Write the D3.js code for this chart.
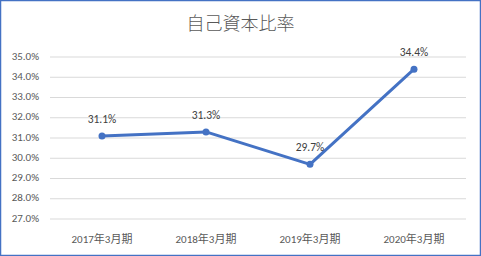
<!DOCTYPE html>
<html>
<head>
<meta charset="utf-8">
<script src="https://cdn.jsdelivr.net/npm/d3@7"></script>
<style>
  html, body { margin: 0; padding: 0; background: #fff; }
  svg { display: block; }
</style>
</head>
<body>
<div id="chart"></div>
<script>
// データ
const categories = ["2017年3月期", "2018年3月期", "2019年3月期", "2020年3月期"];
const values = [31.1, 31.3, 29.7, 34.4];
const yTicks = [27, 28, 29, 30, 31, 32, 33, 34, 35];
const title = "自己資本比率";

const width = 481, height = 256;
const margin = { top: 57, right: 15, bottom: 37, left: 50 };
const font = "Calibri, 'Noto Sans CJK JP', 'Noto Sans', sans-serif";
const textColor = "#595959";
const lineColor = "#4472C4";

const svg = d3.select("#chart")
  .append("svg")
  .attr("width", width)
  .attr("height", height);

// 枠線
svg.append("rect")
  .attr("x", 0.5).attr("y", 0.5)
  .attr("width", width - 1).attr("height", height - 1)
  .attr("fill", "#fff")
  .attr("stroke", lineColor)
  .attr("stroke-width", 1.5);

const x = d3.scaleBand()
  .domain(categories)
  .range([margin.left, width - margin.right]);

const y = d3.scaleLinear()
  .domain([27, 35])
  .range([height - margin.bottom, margin.top]);

// グリッド線
svg.append("g")
  .selectAll("line")
  .data(yTicks)
  .enter()
  .append("line")
  .attr("x1", margin.left)
  .attr("x2", width - margin.right)
  .attr("y1", d => y(d))
  .attr("y2", d => y(d))
  .attr("stroke", "#d9d9d9")
  .attr("stroke-width", 1);

// Y軸ラベル
svg.append("g")
  .selectAll("text")
  .data(yTicks)
  .enter()
  .append("text")
  .attr("x", 39)
  .attr("y", d => y(d))
  .attr("text-anchor", "end")
  .attr("dominant-baseline", "middle")
  .style("font-family", font)
  .style("font-size", "11px")
  .style("fill", textColor)
  .text(d => d.toFixed(1) + "%");

// X軸ラベル
svg.append("g")
  .selectAll("text")
  .data(categories)
  .enter()
  .append("text")
  .attr("x", d => x(d) + x.bandwidth() / 2)
  .attr("y", 240)
  .attr("text-anchor", "middle")
  .attr("dominant-baseline", "middle")
  .style("font-family", font)
  .style("font-size", "11px")
  .style("fill", textColor)
  .text(d => d);

// 折れ線
const line = d3.line()
  .x((d, i) => x(categories[i]) + x.bandwidth() / 2)
  .y(d => y(d));

svg.append("path")
  .datum(values)
  .attr("d", line)
  .attr("fill", "none")
  .attr("stroke", lineColor)
  .attr("stroke-width", 3)
  .attr("stroke-linejoin", "round");

svg.append("g")
  .selectAll("circle")
  .data(values)
  .enter()
  .append("circle")
  .attr("cx", (d, i) => x(categories[i]) + x.bandwidth() / 2)
  .attr("cy", d => y(d))
  .attr("r", 3.5)
  .attr("fill", lineColor);

// データラベル
svg.append("g")
  .selectAll("text")
  .data(values)
  .enter()
  .append("text")
  .attr("x", (d, i) => x(categories[i]) + x.bandwidth() / 2)
  .attr("y", d => y(d) - 16)
  .attr("text-anchor", "middle")
  .attr("dominant-baseline", "middle")
  .style("font-family", font)
  .style("font-size", "11.5px")
  .style("fill", "#404040")
  .text(d => d.toFixed(1) + "%");

// タイトル
svg.append("text")
  .attr("x", width / 2)
  .attr("y", 26)
  .attr("text-anchor", "middle")
  .attr("dominant-baseline", "middle")
  .style("font-family", font)
  .style("font-size", "18px")
  .style("font-weight", 300)
  .style("fill", textColor)
  .text(title);
</script>
</body>
</html>
